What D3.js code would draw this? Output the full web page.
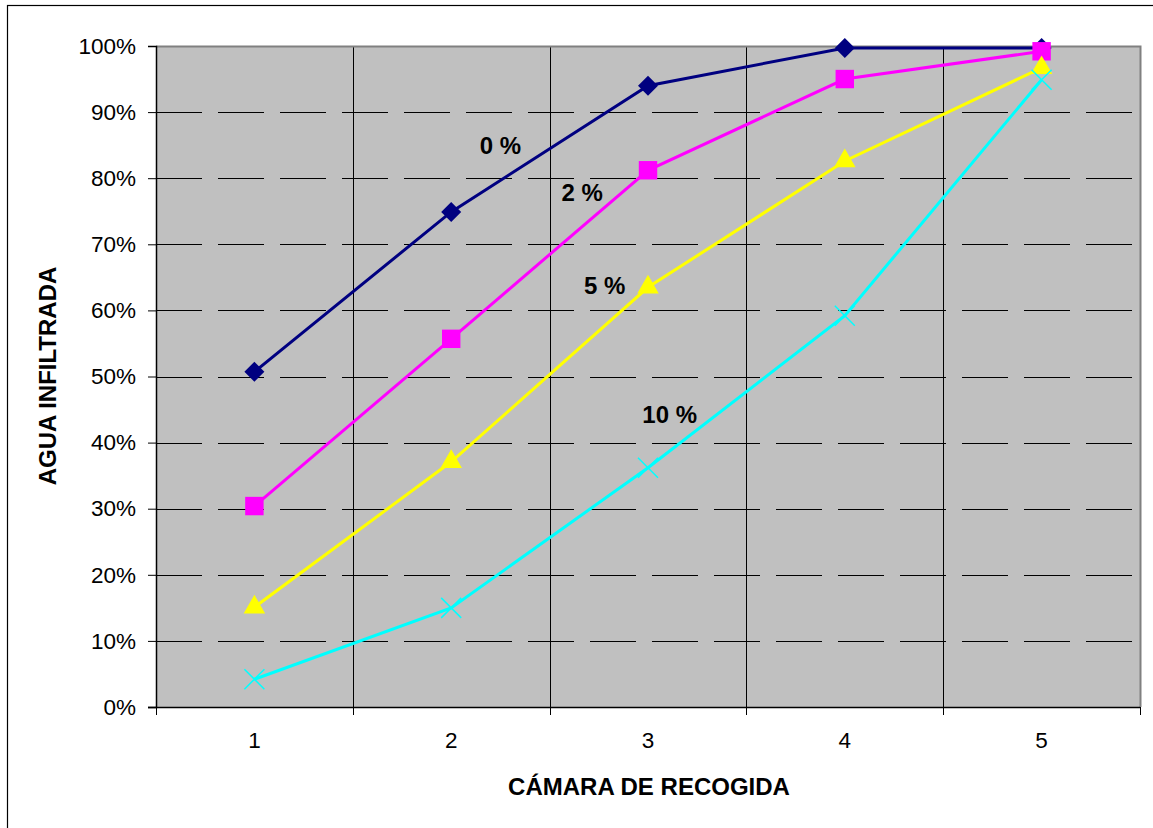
<!DOCTYPE html>
<html><head><meta charset="utf-8">
<script src="https://cdn.jsdelivr.net/npm/d3@7"></script>
<style>body{margin:0;background:#fff}svg{display:block}text{font-family:Arial,"Liberation Sans",sans-serif}</style>
</head><body><svg id="c" width="1153" height="828"></svg>
<script>
const categories = ["1","2","3","4","5"];
const yTicks = [0,0.1,0.2,0.3,0.4,0.5,0.6,0.7,0.8,0.9,1.0];
const s0 = [0.507,0.749,0.940,0.997,0.997];
const s2 = [0.304,0.557,0.812,0.950,0.992];
const s5 = [0.151,0.371,0.635,0.826,0.967];
const s10 = [0.042,0.150,0.362,0.592,0.949];
const seriesNames = ["0 %","2 %","5 %","10 %"];
const seriesColors = ["#000080","#ff00ff","#ffff00","#00ffff"];
const seriesSymbols = ["diamond","square","triangle","cross"];
const labelPos = [[1.75,0.85],[2.165,0.778],[2.28,0.638],[2.61,0.442]]; // [category-axis position, value]

const svg = d3.select("#c");
const L=156,R=1140,T=46,B=707;
svg.append("rect").attr("x",7.5).attr("y",5.5).attr("width",1160).attr("height",840).attr("fill","none").attr("stroke","#000").attr("stroke-width",1.2);

const x = d3.scaleBand().domain(categories).range([L,R]);
const xc = d=>x(d)+x.bandwidth()/2;
const y = d3.scaleLinear().domain([0,1]).range([B,T]);
const xi = d3.scaleLinear().domain([0,categories.length]).range([L,R]);

svg.append("rect").attr("x",L).attr("y",T).attr("width",R-L).attr("height",B-T).attr("fill","#c0c0c0");
svg.append("g").selectAll("line").data(yTicks.slice(1,-1)).join("line")
  .attr("x1",L).attr("x2",R).attr("y1",d=>Math.round(y(d))+0.5).attr("y2",d=>Math.round(y(d))+0.5)
  .attr("stroke","#000").attr("stroke-width",1).attr("stroke-dasharray","46,16");
svg.append("g").selectAll("line").data(categories.slice(1)).join("line")
  .attr("x1",d=>Math.round(x(d))+0.5).attr("x2",d=>Math.round(x(d))+0.5).attr("y1",T).attr("y2",B)
  .attr("stroke","#000").attr("stroke-width",1);
svg.append("path").attr("d",`M${L},${T+0.5}H${R+0.5}V${B}`).attr("fill","none").attr("stroke","#808080").attr("stroke-width",2);

const ya = d3.axisLeft(y).tickValues(yTicks).tickFormat(d3.format(".0%")).tickSize(8).tickPadding(12);
const gy = svg.append("g").attr("transform",`translate(${L},0)`).call(ya);
gy.select(".domain").attr("stroke","#000").attr("stroke-width",1.5);
gy.selectAll(".tick line").attr("stroke","#000");
gy.selectAll("text").attr("font-size",22.5).attr("fill","#000").attr("font-family","Arial, 'Liberation Sans', sans-serif");

const xa = d3.axisBottom(x).tickSize(0).tickPadding(25);
const gx = svg.append("g").attr("transform",`translate(0,${B})`).call(xa);
gx.select(".domain").remove();
svg.append("line").attr("x1",L-8).attr("x2",R).attr("y1",B+0.5).attr("y2",B+0.5).attr("stroke","#000").attr("stroke-width",1.5);
svg.append("g").selectAll("line").data(d3.range(categories.length+1)).join("line")
  .attr("x1",d=>Math.round(xi(d))+0.5).attr("x2",d=>Math.round(xi(d))+0.5).attr("y1",B).attr("y2",B+8)
  .attr("stroke","#000").attr("stroke-width",1);
gx.selectAll("text").attr("font-size",22.5).attr("fill","#000").attr("font-family","Arial, 'Liberation Sans', sans-serif");

const allSeries=[s0,s2,s5,s10];
const line = d3.line().x((d,i)=>xc(categories[i])).y(d=>y(d));
allSeries.forEach((s,k)=>{
  svg.append("path").datum(s).attr("d",line).attr("fill","none").attr("stroke",seriesColors[k]).attr("stroke-width",3);
});
allSeries.forEach((s,k)=>{
  const g = svg.append("g");
  s.forEach((v,i)=>{
    const cx=xc(categories[i]), cy=y(v);
    const sym=seriesSymbols[k];
    if(sym==="diamond"){
      g.append("path").attr("d",d3.symbol(d3.symbolSquare,200)()).attr("transform",`translate(${cx},${cy}) rotate(45)`).attr("fill",seriesColors[k]);
    } else if(sym==="square"){
      g.append("path").attr("d",d3.symbol(d3.symbolSquare,340)()).attr("transform",`translate(${cx},${cy})`).attr("fill",seriesColors[k]);
    } else if(sym==="triangle"){
      g.append("path").attr("d",d3.symbol(d3.symbolTriangle,200)()).attr("transform",`translate(${cx},${cy})`).attr("fill",seriesColors[k]);
    } else {
      g.append("path").attr("d",`M-10,-10L10,10M-10,10L10,-10`).attr("transform",`translate(${cx},${cy})`).attr("fill","none").attr("stroke",seriesColors[k]).attr("stroke-width",1.5);
    }
  });
});

seriesNames.forEach((n,k)=>{
  svg.append("text").attr("x",xi(labelPos[k][0])).attr("y",y(labelPos[k][1])).attr("text-anchor","middle")
    .attr("dominant-baseline","central").attr("font-size",24).attr("font-weight","bold").attr("fill","#000").text(n);
});

svg.append("text").attr("x",649).attr("y",786).attr("text-anchor","middle").attr("dominant-baseline","central")
  .attr("font-size",24).attr("font-weight","bold").text("CÁMARA DE RECOGIDA");
svg.append("text").attr("transform","translate(47,376) rotate(-90)").attr("text-anchor","middle").attr("dominant-baseline","central")
  .attr("font-size",24).attr("font-weight","bold").text("AGUA INFILTRADA");
</script></body></html>
